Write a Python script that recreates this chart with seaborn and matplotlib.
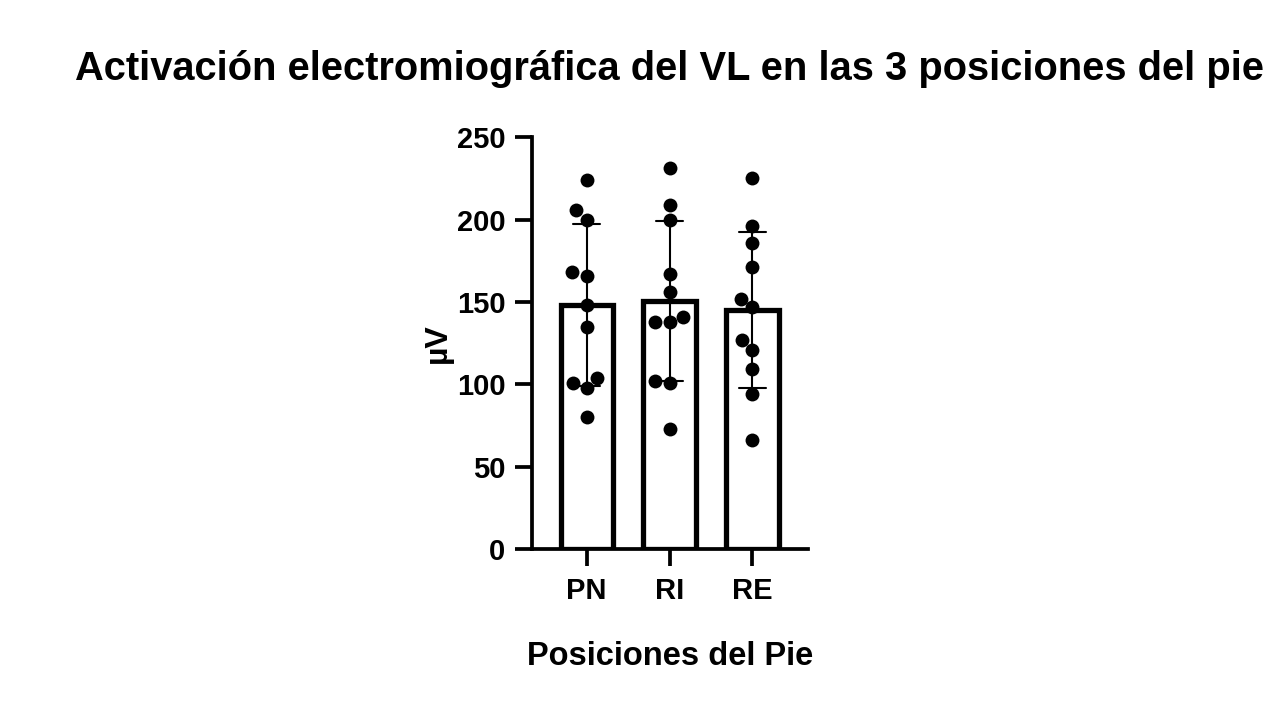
import pandas as pd
import numpy as np
import matplotlib.pyplot as plt
import seaborn as sns

# Datos (µV)
posiciones = ["PN", "RI", "RE"]
pn = [224, 206, 200, 168, 166, 148, 135, 104, 101, 98, 80]
ri = [231, 209, 200, 167, 156, 138, 138, 141, 101, 102, 73]
re = [225, 196, 186, 171, 152, 147, 127, 121, 109, 94, 66]

df = pd.DataFrame({
    "Posición": ["PN"] * len(pn) + ["RI"] * len(ri) + ["RE"] * len(re),
    "uV": pn + ri + re,
})

sns.set_style("white")
plt.rcParams["font.family"] = ["Liberation Sans", "DejaVu Sans"]
plt.rcParams["font.weight"] = "bold"
plt.rcParams["text.color"] = "black"
plt.rcParams["axes.labelcolor"] = "black"

fig = plt.figure(figsize=(12.8, 7.2), dpi=100)
ax = fig.add_axes([0.4156, 0.2375, 0.2156, 0.572])

sns.barplot(data=df, x="Posición", y="uV", order=posiciones, errorbar="sd",
            color="white", edgecolor="black", linewidth=3.8, width=0.63,
            capsize=0.33, err_kws={"color": "black", "linewidth": 1.5}, ax=ax)
sns.swarmplot(data=df, x="Posición", y="uV", order=posiciones, color="black",
              size=10, ax=ax)

ax.set_ylim(0, 250)
ax.set_xlim(-0.66, 2.67)
ax.set_yticks([0, 50, 100, 150, 200, 250])
for s in ["top", "right"]:
    ax.spines[s].set_visible(False)
for s in ["left", "bottom"]:
    ax.spines[s].set_linewidth(2.7)
    ax.spines[s].set_color("black")
ax.tick_params(axis="both", direction="out", length=12, width=2.7, colors="black",
               labelsize=21, left=True, bottom=True)
ax.tick_params(axis="x", pad=8)
ax.tick_params(axis="y", pad=7)
for lab in ax.get_xticklabels() + ax.get_yticklabels():
    lab.set_fontweight("bold")

ax.set_xlabel("Posiciones del Pie", fontsize=23.5, fontweight="bold", labelpad=26)
ax.set_ylabel("µV", fontsize=23, fontweight="bold", labelpad=3)
fig.suptitle("Activación electromiográfica del VL en las 3 posiciones del pie",
             x=0.523, y=0.93, fontsize=28.7, fontweight="bold", color="black")

plt.savefig("out.png", dpi=100)
